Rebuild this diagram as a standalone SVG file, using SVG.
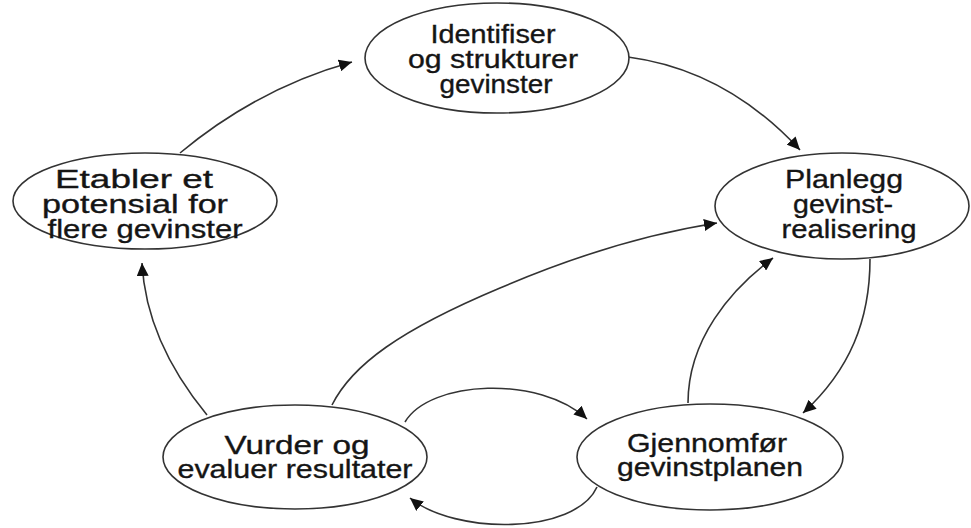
<svg xmlns="http://www.w3.org/2000/svg" width="971" height="528" viewBox="0 0 971 528">
<defs>
<style>
.n{fill:#fff;stroke:#333;stroke-width:1.6}
.t{font-family:"Liberation Sans",Arial,sans-serif;font-size:26px;fill:#151515;stroke:#151515;stroke-width:0.35;text-anchor:middle}
.c{fill:none;stroke:#333;stroke-width:1.6;marker-end:url(#ah)}
</style>
<marker id="ah" markerUnits="userSpaceOnUse" markerWidth="14" markerHeight="12" refX="13" refY="6" orient="auto">
<path d="M0,0 L13,6 L0,12 Z" fill="#111"/>
</marker>
</defs>
<rect width="971" height="528" fill="#fff"/>
<g id="connectors">
<path class="c" d="M180,153 Q258,88 352,62"/>
<path class="c" d="M628,57 Q726,70 800,150"/>
<path class="c" d="M870,259 C870,320 850,370 803,413"/>
<path class="c" d="M688,403 C688,340 730,290 773,258"/>
<path class="c" d="M332,405 C352,365 400,330 500,288 C570,258 640,235 717,223"/>
<path class="c" d="M405,422 C430,380 540,375 587,419"/>
<path class="c" d="M597,487 C575,535 455,535 410,498"/>
<path class="c" d="M207,415 C170,370 145,320 142,263"/>
</g>
<g id="identifiser">
<ellipse class="n" cx="497" cy="58" rx="132" ry="55"/>
<text class="t" x="493" y="43" textLength="125" lengthAdjust="spacingAndGlyphs">Identifiser</text>
<text class="t" x="493" y="68" textLength="170" lengthAdjust="spacingAndGlyphs">og strukturer</text>
<text class="t" x="496" y="93" textLength="113" lengthAdjust="spacingAndGlyphs">gevinster</text>
</g>
<g id="planlegg">
<ellipse class="n" cx="842" cy="206" rx="127" ry="53"/>
<text class="t" x="844" y="188" textLength="118" lengthAdjust="spacingAndGlyphs">Planlegg</text>
<text class="t" x="843" y="213" textLength="100" lengthAdjust="spacingAndGlyphs">gevinst-</text>
<text class="t" x="849" y="238" textLength="135" lengthAdjust="spacingAndGlyphs">realisering</text>
</g>
<g id="etabler">
<ellipse class="n" cx="145" cy="201" rx="132" ry="48"/>
<text class="t" x="134" y="188" textLength="158" lengthAdjust="spacingAndGlyphs">Etabler et</text>
<text class="t" x="135" y="213" textLength="186" lengthAdjust="spacingAndGlyphs">potensial for</text>
<text class="t" x="145" y="238" textLength="195" lengthAdjust="spacingAndGlyphs">flere gevinster</text>
</g>
<g id="vurder">
<ellipse class="n" cx="295" cy="457" rx="132" ry="52"/>
<text class="t" x="297" y="454" textLength="145" lengthAdjust="spacingAndGlyphs">Vurder og</text>
<text class="t" x="295" y="478" textLength="235" lengthAdjust="spacingAndGlyphs">evaluer resultater</text>
</g>
<g id="gjennomfor">
<ellipse class="n" cx="710" cy="457" rx="133" ry="53"/>
<text class="t" x="707" y="452" textLength="160" lengthAdjust="spacingAndGlyphs">Gjennomfør</text>
<text class="t" x="710" y="476" textLength="186" lengthAdjust="spacingAndGlyphs">gevinstplanen</text>
</g>
</svg>
